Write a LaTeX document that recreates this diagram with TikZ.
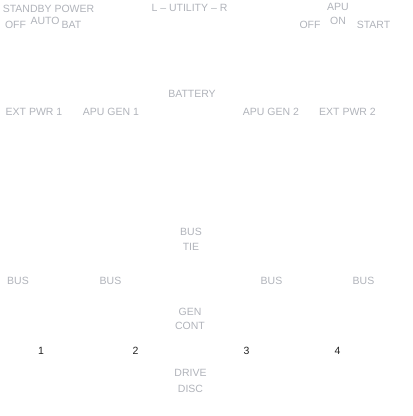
\documentclass[tikz,border=0pt]{standalone}
\usepackage{fontspec}
\setmainfont{Liberation Sans}
\usetikzlibrary{positioning}
\definecolor{pnllabel}{HTML}{B0B3BA}
\definecolor{pnldigit}{HTML}{222222}

\begin{document}
\begin{tikzpicture}[x=1pt, y=-1pt,
    lbl/.style={inner sep=0pt, font=\fontsize{10.5}{12}\selectfont, text=pnllabel},
    num/.style={inner sep=0pt, font=\fontsize{10.5}{12}\selectfont, text=pnldigit},
]
    \useasboundingbox (0,0) rectangle (413,416);

    % top switches
    \node[lbl] (stbypwr) at (48.5,8.5) {STANDBY POWER};
    \node[lbl] (stbyoff) at (15.5,24.5) {OFF};
    \node[lbl] (stbyauto) at (45,21) {AUTO};
    \node[lbl] (stbybat) at (71.5,24.5) {BAT};
    \node[lbl] (utility) at (189.5,8) {L -- UTILITY -- R};
    \node[lbl] (apu) at (338,7) {APU};
    \node[lbl, below=6pt of apu] (apuon) {ON};
    \node[lbl] (apuoff) at (310,24.5) {OFF};
    \node[lbl] (apustart) at (373.5,24.5) {START};

    % sources
    \node[lbl] (battery) at (192,93.5) {BATTERY};
    \node[lbl] (ext1) at (34,112) {EXT PWR 1};
    \node[lbl] (gen1) at (111,112) {APU GEN 1};
    \node[lbl] (gen2) at (271,112) {APU GEN 2};
    \node[lbl] (ext2) at (347.5,112) {EXT PWR 2};

    % buses
    \node[lbl] (bustie) at (191,232) {BUS};
    \node[lbl, below=7pt of bustie] (tie) {TIE};
    \node[lbl] (bus1) at (18,281) {BUS};
    \node[lbl] (bus2) at (110.5,281) {BUS};
    \node[lbl] (bus3) at (271.5,281) {BUS};
    \node[lbl] (bus4) at (363.5,281) {BUS};

    % generators
    \node[lbl] (gencont) at (190,312) {GEN};
    \node[lbl, below=6.5pt of gencont] (cont) {CONT};
    \node[num] (n1) at (41,351) {1};
    \node[num] (n2) at (135.5,351) {2};
    \node[num] (n3) at (246.5,351) {3};
    \node[num] (n4) at (337.5,351) {4};
    \node[lbl] (drive) at (190.5,372.5) {DRIVE};
    \node[lbl, below=8.5pt of drive] (disc) {DISC};
\end{tikzpicture}
\end{document}
